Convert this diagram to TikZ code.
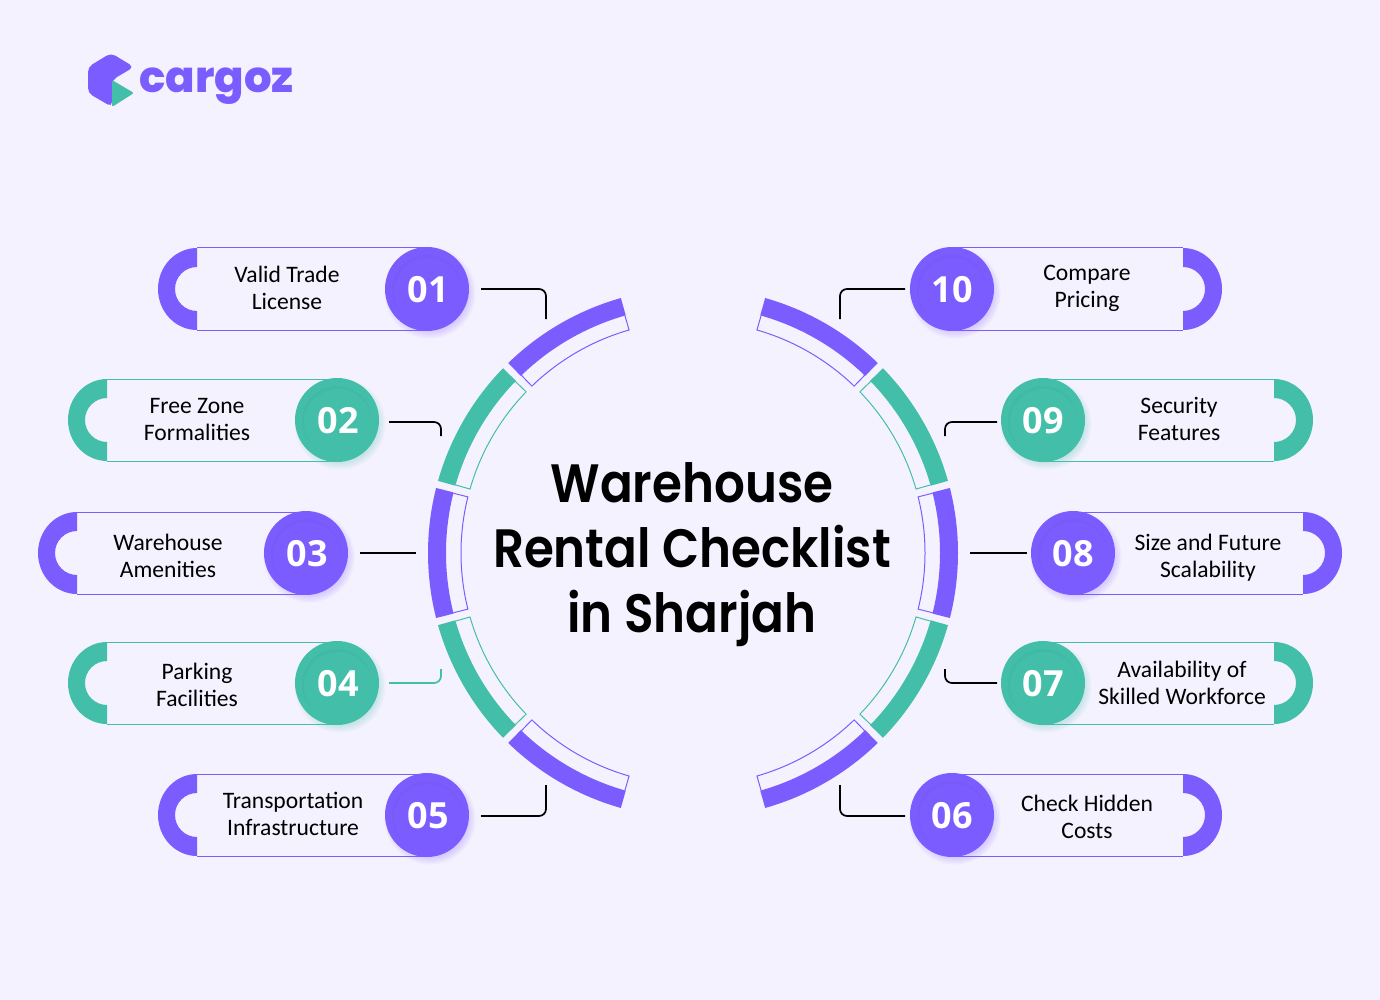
\documentclass[tikz,border=0pt]{standalone}
\usepackage{fontspec}
\setmainfont{Carlito}
\newfontfamily\titlefont{Poppins SemiBold}[FakeStretch=.896]
\newfontfamily\logofont{Poppins ExtraBold}
\newfontfamily\numfont{Open Sans}
\definecolor{bgcol}{HTML}{F5F2FF}
\definecolor{vio}{HTML}{7B5CFF}
\definecolor{grn}{HTML}{42BEA9}
\tikzset{
  numdot/.style={circle,minimum size=42pt,inner sep=0pt,outer sep=6pt,text=white,font=\numfont\bfseries\fontsize{18}{20}\selectfont},
  pilltext/.style={align=center,text=black,font=\fontsize{11.8}{13.5}\selectfont},
  hair/.style={line width=.5pt},
  link/.style={line width=.85pt,rounded corners=3.5pt},
  titletext/.style={align=center,text=black,font=\titlefont\fontsize{27}{32.5}\selectfont}
}
\begin{document}
\begin{tikzpicture}[x=.5pt,y=-.5pt]
\fill[bgcol] (0,0) rectangle (1380,1000);
\useasboundingbox (0,0) rectangle (1380,1000);
% logo
\fill[vio,rounded corners=2.5pt] (111,53) -- (134,67) -- (112,80) -- (112,107) -- (88,93) -- (88,67) -- cycle;
\fill[grn,rounded corners=1pt] (112,80) -- (134,93) -- (112,107) -- cycle;
\node[anchor=west,inner sep=0pt,text=vio,font=\logofont\fontsize{21.7}{24}\selectfont] (logo) at (139,86) {cargoz};
% ring
\begin{scope}[shift={(693,553)}]
\foreach \a/\col in {120/vio,150/grn,180/vio,210/grn,240/vio,60/vio,30/grn,0/vio,-30/grn,-60/vio} {
  \draw[\col,hair] (\a-14:247) -- (\a-14:232) arc[start angle=\a-14,end angle=\a+14,radius=232] -- (\a+14:247);
  \fill[\col] (\a-14.2:265) arc[start angle=\a-14.2,end angle=\a+14.2,radius=265] -- (\a+14.2:247) arc[start angle=\a+14.2,end angle=\a-14.2,radius=247] -- cycle;
};
\end{scope}
% pills
\foreach \n/\cut/\cx/\y/\col/\s/\tx/\ty/\lab in {
  01/197/427/289/vio/1/287/288/{Valid Trade\\License},
  02/107/337/420/grn/1/197/420/{Free Zone\\Formalities},
  03/77/306/553/vio/1/168/556/{Warehouse\\Amenities},
  04/107/337/683/grn/1/197/685/{Parking\\Facilities},
  05/197/427/815/vio/1/293/814/{Transportation\\Infrastructure},
  10/1183/952/289/vio/-1/1087/288/{Compare\\Pricing},
  09/1274/1043/420/grn/-1/1179/419/{Security\\Features},
  08/1303/1073/553/vio/-1/1208/558/{Size and Future\\Scalability},
  07/1274/1043/683/grn/-1/1182/683/{Availability of\\Skilled Workforce},
  06/1183/952/815/vio/-1/1087/817/{Check Hidden\\Costs}} {
  \draw[\col,hair] (\cut,\y-41) -- (\cx,\y-41) (\cut,\y+41) -- (\cx,\y+41);
  \fill[\col] (\cut,\y-41) arc[start angle=90+180*\s,end angle=90,x radius=39,y radius=41] -- (\cut,\y+22) arc[start angle=90,end angle=90+180*\s,radius=22] -- cycle;
  \foreach \k in {1,...,6}
    \fill[\col,opacity=.05] (\cx+3,\y+4) circle[radius=36+1.6*\k];
  \node[pilltext] (t\n) at (\tx,\ty) {\lab};
  \node[numdot,fill=\col] (c\n) at (\cx,\y) {};
  \fill[\col!92!black,opacity=.25] (\cx,\y+1) circle[radius=35];
  \fill[\col] (\cx+1,\y+3) circle[radius=34];
  \node[numdot] (n\n) at (\cx+.5*\s+.5,\y+1) {\n};
};
% connectors
\coordinate (e01) at (546,319);
\coordinate (e02) at (441,436);
\coordinate (e03) at (416,553);
\coordinate (e04) at (441,669);
\coordinate (e05) at (546,785);
\coordinate (e10) at (840,319);
\coordinate (e09) at (945,436);
\coordinate (e08) at (970,553);
\coordinate (e07) at (945,669);
\coordinate (e06) at (840,785);
\foreach \n/\sd/\dx/\dy/\lc in {01/east/0/0/black,02/east/-1/-1/black,04/east/-1/0/grn,05/east/0/-.5/black,10/west/3.5/0/black,09/west/4/-1/black,07/west/4/0/black,06/west/3.5/-.5/black}
  \draw[link,\lc] ([xshift=\dx pt,yshift=\dy pt]c\n.\sd) -| (e\n);
\draw[link] (c03) -- (e03);
\draw[link] ([xshift=4pt]c08.west) -- (e08);
% title
\node[titletext] (title) at (692,555) {Warehouse\\Rental Checklist\\in Sharjah};
\end{tikzpicture}
\end{document}
